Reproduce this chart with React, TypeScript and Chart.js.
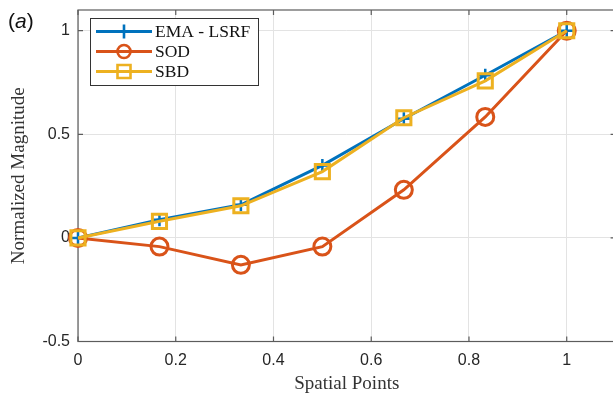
import React, { useEffect, useRef } from "react";
import { Chart, registerables } from "chart.js";

Chart.register(...registerables);

// ---- data ----
const spatialPoints = [0, 0.1667, 0.3333, 0.5, 0.6667, 0.8333, 1];
const emaLsrf = [0, 0.088, 0.16, 0.35, 0.575, 0.785, 1];
const sod = [0, -0.042, -0.13, -0.042, 0.232, 0.584, 1];
const sbd = [0, 0.08, 0.155, 0.32, 0.58, 0.758, 1];
const xTicks = [0, 0.2, 0.4, 0.6, 0.8, 1];
const yTicks = [-0.5, 0, 0.5, 1];
const xRange = [0, 1.1];
const yRange = [-0.5, 1.1];
const seriesNames = ["EMA - LSRF", "SOD", "SBD"];
const seriesColors = ["#0072BD", "#D95319", "#EDB120"];
const panelLabel = "a";

const AXIS = "#5c5c5c";
const GRID = "#e3e3e3";
const TEXT = "#262626";
const SERIF = "'Liberation Serif', 'Times New Roman', serif";
const SANS = "'Liberation Sans', Arial, sans-serif";

const toPts = (ys: number[]) => spatialPoints.map((x, i) => ({ x, y: ys[i] }));
const zeroPad = () => ({ left: 0, top: 0, right: 0, bottom: 0 });

function drawMarker(ctx: CanvasRenderingContext2D, kind: string, x: number, y: number, color: string) {
  ctx.save();
  ctx.strokeStyle = color;
  ctx.lineWidth = 2.6;
  ctx.beginPath();
  if (kind === "cross") {
    ctx.moveTo(x - 7, y);
    ctx.lineTo(x + 7, y);
    ctx.moveTo(x, y - 7);
    ctx.lineTo(x, y + 7);
  } else if (kind === "circle") {
    ctx.arc(x, y, 6.5, 0, Math.PI * 2);
  } else {
    ctx.rect(x - 6.5, y - 6.5, 13, 13);
  }
  ctx.stroke();
  ctx.restore();
}

const framePlugin = {
  id: "frame",
  beforeDatasetsDraw(chart: any) {
    const { ctx, chartArea: a, scales } = chart;
    ctx.save();
    ctx.strokeStyle = AXIS;
    ctx.lineWidth = 1.2;
    ctx.strokeRect(a.left, a.top, a.right - a.left, a.bottom - a.top);
    const tl = 5;
    ctx.beginPath();
    xTicks.forEach((v) => {
      const px = scales.x.getPixelForValue(v);
      ctx.moveTo(px, a.bottom);
      ctx.lineTo(px, a.bottom - tl);
      ctx.moveTo(px, a.top);
      ctx.lineTo(px, a.top + tl);
    });
    yTicks.forEach((v) => {
      const py = scales.y.getPixelForValue(v);
      ctx.moveTo(a.left, py);
      ctx.lineTo(a.left + tl, py);
      ctx.moveTo(a.right, py);
      ctx.lineTo(a.right - tl, py);
    });
    ctx.stroke();
    ctx.restore();
  },
  afterDraw(chart: any) {
    const { ctx } = chart;
    ctx.save();
    // panel label "(a)"
    ctx.fillStyle = "#111";
    ctx.textBaseline = "alphabetic";
    ctx.font = `21px ${SANS}`;
    let x = 8;
    const y = 28;
    ctx.fillText("(", x, y);
    x += ctx.measureText("(").width;
    ctx.font = `italic 21px ${SANS}`;
    ctx.fillText(panelLabel, x, y);
    x += ctx.measureText(panelLabel).width;
    ctx.font = `21px ${SANS}`;
    ctx.fillText(")", x, y);

    // legend
    const bx = 90, by = 18, bw = 168, bh = 67;
    ctx.fillStyle = "#fff";
    ctx.fillRect(bx, by, bw, bh);
    ctx.strokeStyle = "#333";
    ctx.lineWidth = 1;
    ctx.strokeRect(bx + 0.5, by + 0.5, bw, bh);
    const kinds = ["cross", "circle", "rect"];
    const rows = [31.5, 51.5, 71.5];
    seriesNames.forEach((name, i) => {
      const ry = rows[i];
      ctx.strokeStyle = seriesColors[i];
      ctx.lineWidth = 3;
      ctx.beginPath();
      ctx.moveTo(96, ry);
      ctx.lineTo(152, ry);
      ctx.stroke();
      drawMarker(ctx, kinds[i], 124, ry, seriesColors[i]);
      ctx.fillStyle = "#111";
      ctx.font = `17.5px ${SERIF}`;
      ctx.textBaseline = "middle";
      ctx.fillText(name, 155, ry + 1);
    });
    ctx.restore();
  },
};

export default function App() {
  const ref = useRef<HTMLCanvasElement | null>(null);

  useEffect(() => {
    if (!ref.current) return;
    const chart = new Chart(ref.current, {
      type: "line",
      data: {
        datasets: [
          {
            label: seriesNames[0],
            data: toPts(emaLsrf),
            borderColor: seriesColors[0],
            backgroundColor: "transparent",
            borderWidth: 3,
            pointStyle: "cross",
            pointRadius: 6.5,
            pointBorderWidth: 2.5,
            pointBorderColor: seriesColors[0],
            clip: false as any,
            order: 2,
          },
          {
            label: seriesNames[1],
            data: toPts(sod),
            borderColor: seriesColors[1],
            backgroundColor: "transparent",
            borderWidth: 3,
            pointStyle: "circle",
            pointRadius: 8.5,
            pointBorderWidth: 3,
            pointBorderColor: seriesColors[1],
            pointBackgroundColor: "transparent",
            clip: false as any,
            order: 1,
          },
          {
            label: seriesNames[2],
            data: toPts(sbd),
            borderColor: seriesColors[2],
            backgroundColor: "transparent",
            borderWidth: 3,
            pointStyle: "rect",
            pointRadius: 10,
            pointBorderWidth: 3,
            pointBorderColor: seriesColors[2],
            pointBackgroundColor: "transparent",
            clip: false as any,
            order: 0,
          },
        ],
      },
      options: {
        animation: false,
        responsive: false,
        devicePixelRatio: 1,
        layout: { autoPadding: false, padding: { left: 0, top: 10, right: 4.4, bottom: 0 } },
        plugins: { legend: { display: false }, tooltip: { enabled: false } },
        elements: { line: { tension: 0 } },
        scales: {
          x: {
            type: "linear",
            min: xRange[0],
            max: xRange[1],
            afterBuildTicks: (s: any) => {
              s.ticks = xTicks.map((v) => ({ value: v }));
            },
            afterFit: (s: any) => {
              s.height = 57.5;
              s.paddingLeft = 0;
              s.paddingRight = 0;
              s.getPadding = zeroPad;
            },
            grid: { color: GRID, lineWidth: 1, drawTicks: false },
            border: { display: false },
            ticks: {
              padding: 9,
              color: TEXT,
              font: { family: SANS, size: 16 },
              callback: (v: any) => String(v),
            },
            title: {
              display: true,
              text: "Spatial Points",
              color: "#333",
              font: { family: SERIF, size: 19 },
              padding: { top: 0, bottom: 4 },
            },
          },
          y: {
            type: "linear",
            min: yRange[0],
            max: yRange[1],
            afterBuildTicks: (s: any) => {
              s.ticks = yTicks.map((v) => ({ value: v }));
            },
            afterFit: (s: any) => {
              s.width = 78;
              s.paddingTop = 0;
              s.paddingBottom = 0;
              s.getPadding = zeroPad;
            },
            grid: { color: GRID, lineWidth: 1, drawTicks: false },
            border: { display: false },
            ticks: {
              padding: 8,
              color: TEXT,
              font: { family: SANS, size: 16 },
              callback: (v: any) => String(v),
            },
            title: {
              display: true,
              text: "Normalized Magnitude",
              color: "#333",
              font: { family: SERIF, size: 19 },
              padding: { top: 8, bottom: 0 },
            },
          },
        },
      },
      plugins: [framePlugin],
    });
    return () => chart.destroy();
  }, []);

  return (
    <div
      style={{
        position: "fixed",
        left: 0,
        top: 0,
        width: 613,
        height: 399,
        overflow: "hidden",
        background: "#fff",
      }}
    >
      <canvas ref={ref} width={620} height={399} style={{ display: "block" }} />
    </div>
  );
}
